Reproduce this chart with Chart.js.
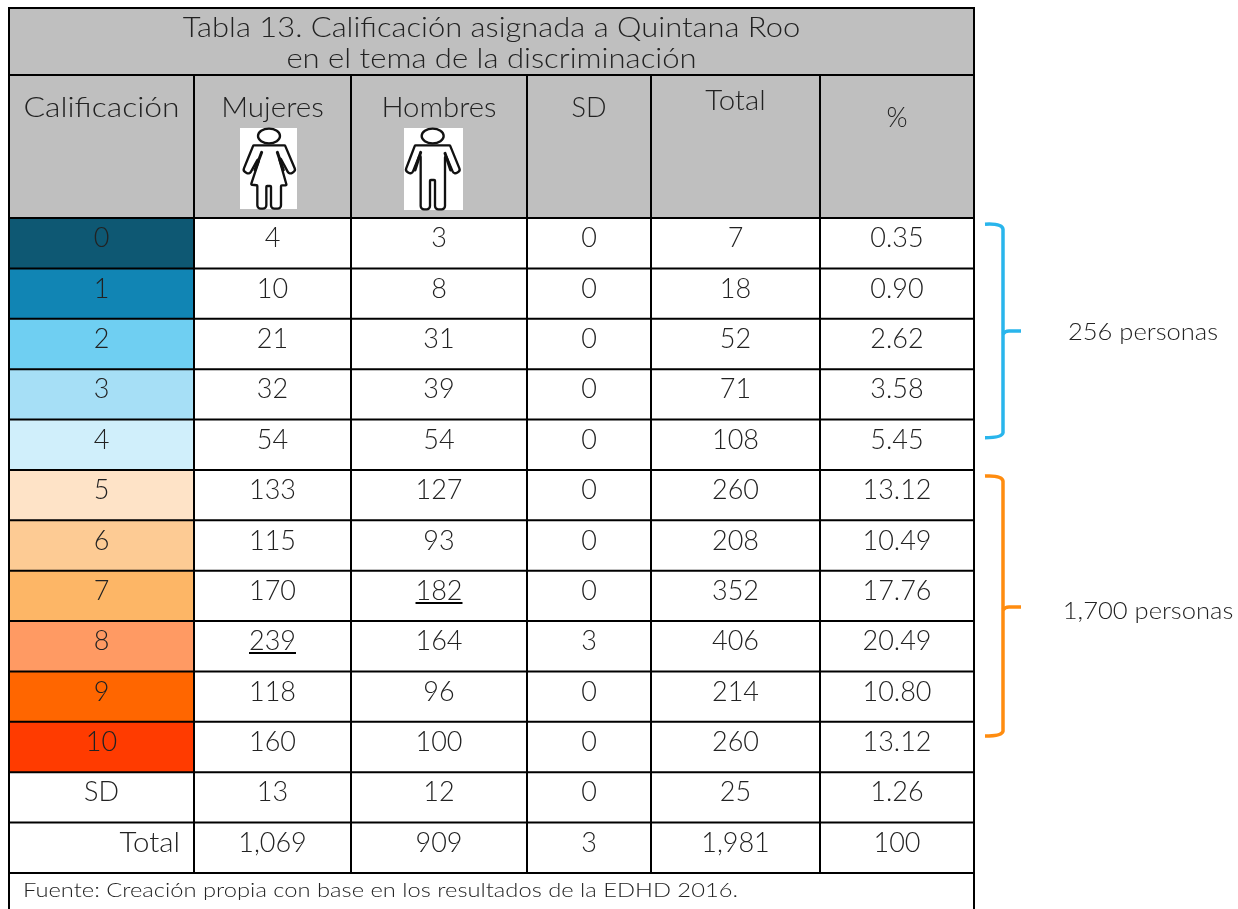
<!DOCTYPE html>
<html>
<head>
<meta charset="utf-8">
<style>
  html, body { margin: 0; padding: 0; background: #fff; overflow: hidden; }
  canvas { display: block; }
</style>
<script src="https://cdn.jsdelivr.net/npm/chart.js@4"></script>
</head>
<body>
<canvas id="tablaChart" width="1238" height="909"></canvas>
<script>
const categories = ["0","1","2","3","4","5","6","7","8","9","10","SD","Total"];
const mujeres = [4,10,21,32,54,133,115,170,239,118,160,13,1069];
const hombres = [3,8,31,39,54,127,93,182,164,96,100,12,909];
const sinDato = [0,0,0,0,0,0,0,0,3,0,0,0,3];
const totales = [7,18,52,71,108,260,208,352,406,214,260,25,1981];
const porcentaje = ["0.35","0.90","2.62","3.58","5.45","13.12","10.49","17.76","20.49","10.80","13.12","1.26","100"];
const columnas = ["Calificación","Mujeres","Hombres","SD","Total","%"];
const titulo = ["Tabla 13. Calificación asignada a Quintana Roo","en el tema de la discriminación"];
const fuente = "Fuente: Creación propia con base en los resultados de la EDHD 2016.";
const grupos = ["256 personas","1,700 personas"];

// look of the table
const anchos = [185,157,176,124,169,154];
const colorCalif = ["#0e5873","#1185b4","#6fcff2","#a6dff6","#d0effb","#fee3c7","#fdcb94","#fdb666","#ff9a63","#ff6600","#ff3b00","#ffffff","#ffffff"];
const GRIS = "#bfbfbf", TINTA = "#222222";
const FUENTE = "Lato, sans-serif";

const num = v => v.toLocaleString("en-US");
const celdas = [categories, mujeres.map(num), hombres.map(num), sinDato.map(num), totales.map(num), porcentaje];

const bordes = anchos.reduce((acc, a) => { acc.push(acc[acc.length-1] + a); return acc; }, [0]);

// icon outlines, traced at 3x
const mujerPts = [[160,76],[255,76],[287,152],[268,164],[232,97],[260,196],[243,196],[243,266],[213,266],[213,198],[199,198],[199,266],[172,266],[172,196],[153,194],[185,97],[148,164],[129,152]];
const hombrePts = [[645,76],[750,76],[781,152],[762,164],[735,100],[735,268],[705,268],[705,180],[690,180],[690,268],[662,268],[662,97],[635,164],[616,152]];

// the reference face is wider than Lato, k stretches the letters sideways
function texto(ctx, s, x, y, size, align, k) {
  ctx.save();
  ctx.font = "300 " + size + "px " + FUENTE;
  ctx.textAlign = align || "center";
  ctx.textBaseline = "alphabetic";
  ctx.fillStyle = TINTA;
  ctx.translate(x, y);
  ctx.scale(k || 1, 1);
  ctx.fillText(s, 0, 0);
  ctx.restore();
}

function figura(ctx, pts, caja, cabeza, extras) {
  ctx.save();
  ctx.fillStyle = "#fff";
  ctx.fillRect(caja[0], caja[1], caja[2], caja[3]);
  ctx.translate(200, 120);
  ctx.scale(1/3, 1/3);
  ctx.strokeStyle = "#111";
  ctx.lineWidth = 7;
  ctx.lineJoin = "round";
  ctx.lineCap = "round";
  ctx.beginPath();
  const n = pts.length;
  ctx.moveTo((pts[n-1][0] + pts[0][0]) / 2, (pts[n-1][1] + pts[0][1]) / 2);
  pts.forEach((p, i) => {
    const q = pts[(i + 1) % n];
    const r = p[1] >= 260 ? 10 : (p[1] >= 150 && p[1] < 170 ? 9 : 2.5);
    ctx.arcTo(p[0], p[1], q[0], q[1], r);
  });
  ctx.closePath();
  ctx.stroke();
  ctx.beginPath();
  ctx.ellipse(cabeza[0], 48, cabeza[1], 22, 0, 0, Math.PI*2);
  ctx.stroke();
  ctx.lineWidth = 9;
  extras.forEach(e => {
    ctx.beginPath();
    ctx.moveTo(e[0], e[1]);
    ctx.lineTo(e[2], e[3]);
    ctx.stroke();
  });
  ctx.restore();
}

function llave(ctx, x, y1, y2, yPunta, color) {
  ctx.save();
  ctx.strokeStyle = color;
  ctx.lineWidth = 3.5;
  ctx.beginPath();
  ctx.moveTo(x, y1);
  ctx.quadraticCurveTo(x + 17, y1 - 1, x + 18, y1 + 5);
  ctx.lineTo(x + 18, y2 - 4);
  ctx.quadraticCurveTo(x + 17, y2 + 1, x, y2 + 1);
  ctx.stroke();
  ctx.beginPath();
  ctx.moveTo(x + 36, yPunta);
  ctx.lineTo(x + 24, yPunta);
  ctx.quadraticCurveTo(x + 20, yPunta, x + 18, yPunta + 3);
  ctx.stroke();
  ctx.restore();
}

const tablaPlugin = {
  id: "tabla",
  beforeDatasetsDraw(chart) {
    const ctx = chart.ctx, a = chart.chartArea, xs = chart.scales.x;
    const L = xs.getPixelForValue(0), R = xs.getPixelForValue(bordes[6]);
    ctx.save();
    ctx.fillStyle = GRIS;
    ctx.fillRect(L, a.top - 210, R - L, 210);
    ctx.restore();
  },
  afterDatasetsDraw(chart) {
    const ctx = chart.ctx, a = chart.chartArea, xs = chart.scales.x, ys = chart.scales.y;
    const px = bordes.map(b => xs.getPixelForValue(b));
    const L = px[0], R = px[6];
    const altoFila = (a.bottom - a.top) / categories.length;

    // icons go under the lines
    figura(ctx, mujerPts, [px[1] + 46, a.top - 90, 57, 81], [207, 33], [[232,97,250,150],[185,97,165,150]]);
    figura(ctx, hombrePts, [px[2] + 53, a.top - 90, 59, 82], [698, 33], [[662,97,645,150],[735,100,752,150]]);

    // lines
    ctx.save();
    ctx.strokeStyle = "#000";
    ctx.lineWidth = 2;
    ctx.beginPath();
    [a.top - 210, a.top - 143].forEach(y => { ctx.moveTo(L - 1, y); ctx.lineTo(R + 1, y); });
    categories.forEach((c, i) => { const y = a.top + altoFila * i; ctx.moveTo(L, y); ctx.lineTo(R, y); });
    ctx.moveTo(L, a.bottom); ctx.lineTo(R, a.bottom);
    ctx.moveTo(L, a.top - 211); ctx.lineTo(L, chart.height);
    ctx.moveTo(R, a.top - 211); ctx.lineTo(R, chart.height);
    px.slice(1, 6).forEach(x => { ctx.moveTo(x, a.top - 143); ctx.lineTo(x, a.bottom); });
    ctx.stroke();
    ctx.restore();

    // header
    const centro = i => (px[i] + px[i + 1]) / 2;
    texto(ctx, titulo[0], (L + R) / 2, 37, 27, "center", 1.145);
    texto(ctx, titulo[1], (L + R) / 2, 68, 27, "center", 1.15);
    const baseCab = [117, 117, 117, 117, 110, 127];
    const anchoCab = [1.18, 1.097, 1.086, 1, 1.09, 1];
    columnas.forEach((c, i) => texto(ctx, c, centro(i), baseCab[i], 27, "center", anchoCab[i]));

    // body
    categories.forEach((c, f) => {
      const y = ys.getPixelForValue(f) + 4;
      celdas.forEach((col, i) => {
        if (i === 0 && c === "Total") texto(ctx, col[f], px[1] - 14, y, 27, "right", 1.09);
        else texto(ctx, String(col[f]), centro(i), y, 27);
      });
    });

    // underlined maximums
    const subrayar = [[7, 2], [8, 1]];
    ctx.save();
    ctx.strokeStyle = "#000";
    ctx.lineWidth = 2;
    subrayar.forEach(([f, i]) => {
      ctx.font = "300 27px " + FUENTE;
      const w = ctx.measureText(String(celdas[i][f])).width;
      const y = Math.round(ys.getPixelForValue(f) + 7);
      ctx.beginPath();
      ctx.moveTo(centro(i) - w / 2, y);
      ctx.lineTo(centro(i) + w / 2, y);
      ctx.stroke();
    });
    ctx.restore();

    texto(ctx, fuente, L + 14, 897, 20, "left", 1.186);

    // brackets with their labels
    const xL = R + 11;
    llave(ctx, xL, ys.getPixelForValue(0) - 19, ys.getPixelForValue(4) - 8, 331, "#29b5ec");
    llave(ctx, xL, ys.getPixelForValue(5) - 19, ys.getPixelForValue(10) - 12, 607, "#ff8c0f");
    texto(ctx, grupos[0], 1143, 340, 24, "center", 1.065);
    texto(ctx, grupos[1], 1148, 619, 24, "center", 1.065);
  }
};

new Chart(document.getElementById("tablaChart"), {
  type: "bar",
  data: {
    labels: categories,
    datasets: columnas.map((c, i) => ({
      label: c,
      data: categories.map(() => anchos[i]),
      backgroundColor: i === 0 ? colorCalif : "#ffffff",
      borderWidth: 0,
      barPercentage: 1,
      categoryPercentage: 1
    }))
  },
  options: {
    indexAxis: "y",
    responsive: false,
    animation: false,
    layout: { padding: { left: 9, right: 264, top: 218, bottom: 36 } },
    plugins: { legend: { display: false }, tooltip: { enabled: false } },
    scales: {
      x: { type: "linear", stacked: true, display: false, min: 0, max: bordes[6] },
      y: { type: "category", stacked: true, display: false }
    }
  },
  plugins: [tablaPlugin]
});
</script>
</body>
</html>
